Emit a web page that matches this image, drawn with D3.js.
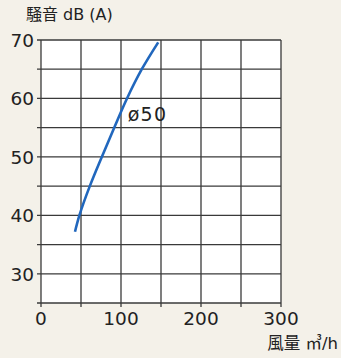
<!DOCTYPE html>
<html>
<head>
<meta charset="utf-8">
<script src="https://cdn.jsdelivr.net/npm/d3@7"></script>
<style>
  html, body { margin: 0; padding: 0; background: #f4f1e9; }
  svg { display: block; }
  text { font-family: "DejaVu Sans", "Noto Sans CJK JP", sans-serif; fill: #222; }
</style>
</head>
<body>
<svg id="chart" width="341" height="358"></svg>
<script>
// Airflow (m³/h) vs. noise level dB(A) for the ø50 unit
const airflow = [42.5, 48, 61, 76, 91.5, 107.5, 126, 146.5];
const noise   = [37.2, 40, 45, 50, 55, 60, 65, 69.6];
const xTicks = [0, 100, 200, 300];
const yTicks = [30, 40, 50, 60, 70];
const seriesLabel = "ø50";

const svg = d3.select("#chart");
const margin = { left: 41, right: 60, top: 40, bottom: 55 };
const W = 341, H = 358;

const x = d3.scaleLinear().domain([0, 300]).range([margin.left, W - margin.right]);
const y = d3.scaleLinear().domain([25, 70]).range([H - margin.bottom, margin.top]);

// plot background
svg.append("rect")
  .attr("x", x(0)).attr("y", y(70))
  .attr("width", x(300) - x(0)).attr("height", y(25) - y(70))
  .attr("fill", "#fff");

const gridColor = "#3a3a3a";
// grid every 50 m³/h and 5 dB
const g = svg.append("g").attr("stroke", gridColor).attr("stroke-width", 1.3);
g.selectAll(".vx").data(d3.range(0, 301, 50)).join("line")
  .attr("x1", d => x(d)).attr("x2", d => x(d))
  .attr("y1", y(70)).attr("y2", y(25) + 4);
g.selectAll(".hy").data(d3.range(25, 71, 5)).join("line")
  .attr("x1", x(0) - 4).attr("x2", x(300))
  .attr("y1", d => y(d)).attr("y2", d => y(d));

// tick labels
svg.append("g").selectAll("text").data(yTicks).join("text")
  .attr("x", x(0) - 7).attr("y", d => y(d) + 7)
  .attr("text-anchor", "end").attr("font-size", 18.5)
  .text(d => d);
svg.append("g").selectAll("text").data(xTicks).join("text")
  .attr("x", d => x(d)).attr("y", y(25) + 22)
  .attr("text-anchor", "middle").attr("font-size", 18.5)
  .text(d => d);

// axis titles
svg.append("text").attr("x", 26).attr("y", 20).attr("font-size", 16).text("騒音 dB (A)");
svg.append("text").attr("x", 338).attr("y", 349).attr("text-anchor", "end")
  .attr("font-size", 16.5).text("風量 ㎥/h");

// curve
const line = d3.line().x(d => x(d[0])).y(d => y(d[1])).curve(d3.curveCatmullRom);
svg.append("path")
  .datum(d3.zip(airflow, noise))
  .attr("d", line)
  .attr("fill", "none")
  .attr("stroke", "#2167bd")
  .attr("stroke-width", 2.6);

svg.append("text").attr("x", x(108.5)).attr("y", y(60) + 23)
  .attr("font-size", 19).attr("letter-spacing", 1.2).text(seriesLabel);
</script>
</body>
</html>
